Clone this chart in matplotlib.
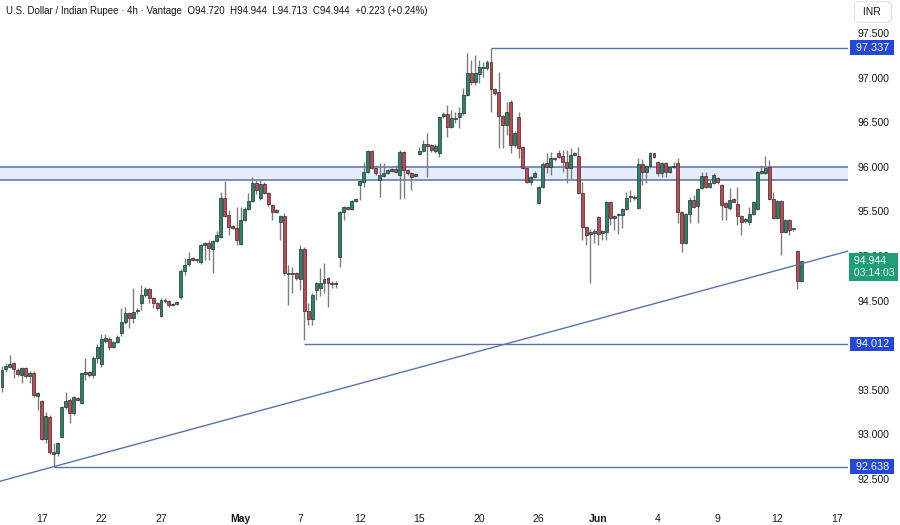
import matplotlib.pyplot as plt
from matplotlib.patches import Rectangle
import numpy as np

# 4h candles, USD/INR
opens = [
    93.53, 93.73, 93.76, 93.80, 93.72, 93.67, 93.74, 93.66, 93.69, 93.43,
    93.37, 92.95, 93.20, 92.80, 92.79, 92.97, 93.31, 93.39, 93.24, 93.41,
    93.35, 93.68, 93.70, 93.67, 93.86, 93.79, 94.05, 94.07, 93.98, 94.04,
    94.14, 94.26, 94.36, 94.31, 94.38, 94.47, 94.56, 94.63, 94.53, 94.47,
    94.33, 94.51, 94.50, 94.46, 94.46, 94.54, 94.83, 94.91, 94.97, 94.96,
    94.93, 95.12, 95.15, 95.08, 95.17, 95.21, 95.65, 95.46, 95.34, 95.31,
    95.13, 95.40, 95.53, 95.62, 95.82, 95.65, 95.81, 95.71, 95.57, 95.49,
    95.38, 95.45, 94.81, 94.80, 94.81, 94.74, 95.08, 94.38, 94.29, 94.62,
    94.64, 94.70, 94.75, 94.70, 94.69, 94.99, 95.49, 95.55, 95.53, 95.62,
    95.80, 95.83, 95.94, 96.18, 95.99, 95.85, 95.90, 95.93, 95.95, 95.98,
    95.91, 96.17, 95.96, 95.93, 95.90, 96.14, 96.18, 96.25, 96.24, 96.18,
    96.15, 96.57, 96.59, 96.45, 96.55, 96.56, 96.60, 96.81, 97.05, 96.95,
    97.04, 97.12, 97.11, 97.18, 96.87, 96.84, 96.57, 96.47, 96.73, 96.24,
    96.56, 96.22, 95.99, 95.83, 95.89, 95.59, 95.77, 96.04, 96.00, 96.10,
    96.15, 96.12, 96.05, 95.99, 96.13, 96.12, 95.71, 95.33, 95.25, 95.26,
    95.44, 95.26, 95.27, 95.61, 95.43, 95.47, 95.46, 95.53, 95.66, 95.65,
    95.54, 96.03, 95.94, 96.01, 96.15, 96.05, 95.93, 96.04, 95.94, 96.00,
    96.04, 95.49, 95.15, 95.47, 95.63, 95.56, 95.76, 95.90, 95.77, 95.82,
    95.87, 95.80, 95.59, 95.54, 95.64, 95.58, 95.45, 95.39, 95.38, 95.47,
    95.53, 95.93, 95.93, 96.00, 95.64, 95.43, 95.62, 95.27, 95.40, 95.30,
    95.06, 94.72,
]
highs = [
    93.77, 93.80, 93.89, 93.81, 93.74, 93.76, 93.76, 93.71, 93.71, 93.47,
    93.38, 93.25, 93.22, 92.90, 92.91, 93.32, 93.47, 93.41, 93.43, 93.42,
    93.70, 93.86, 93.71, 93.88, 94.01, 94.13, 94.13, 94.09, 94.05, 94.11,
    94.42, 94.43, 94.37, 94.64, 94.42, 94.68, 94.65, 94.64, 94.54, 94.48,
    94.53, 94.53, 94.51, 94.47, 94.49, 94.85, 94.98, 95.05, 94.99, 94.97,
    95.13, 95.16, 95.18, 95.18, 95.28, 95.72, 95.84, 95.52, 95.35, 95.55,
    95.55, 95.55, 95.71, 95.89, 95.85, 95.86, 95.83, 95.72, 95.58, 95.53,
    95.46, 95.48, 94.90, 94.88, 94.82, 95.12, 95.10, 94.47, 94.58, 94.71,
    94.86, 94.92, 94.76, 94.72, 94.72, 95.50, 95.56, 95.56, 95.63, 95.65,
    95.86, 96.05, 96.19, 96.19, 96.02, 96.04, 96.04, 95.97, 95.99, 96.02,
    96.19, 96.18, 95.97, 95.94, 95.93, 96.22, 96.30, 96.38, 96.25, 96.25,
    96.57, 96.61, 96.69, 96.64, 96.61, 96.67, 96.88, 97.28, 97.20, 97.25,
    97.20, 97.17, 97.20, 97.337, 96.88, 97.06, 96.58, 96.73, 96.75, 96.40,
    96.61, 96.23, 96.00, 95.90, 95.95, 95.78, 96.05, 96.16, 96.17, 96.11,
    96.19, 96.19, 96.19, 96.21, 96.17, 96.22, 95.83, 95.34, 95.30, 95.30,
    95.45, 95.29, 95.62, 95.62, 95.46, 95.48, 95.54, 95.72, 95.74, 95.68,
    96.10, 96.09, 96.02, 96.17, 96.16, 96.06, 96.05, 96.05, 96.01, 96.05,
    96.10, 95.50, 95.48, 95.66, 95.68, 95.76, 95.94, 95.94, 95.86, 95.93,
    95.89, 95.81, 95.60, 95.76, 95.65, 95.77, 95.46, 95.43, 95.55, 95.62,
    95.95, 96.02, 96.12, 96.08, 95.72, 95.63, 95.63, 95.41, 95.41, 95.31,
    95.07, 94.944,
]
lows = [
    93.48, 93.70, 93.74, 93.63, 93.66, 93.58, 93.63, 93.58, 93.42, 93.27,
    92.94, 92.90, 92.78, 92.638, 92.76, 92.96, 93.29, 93.13, 93.22, 93.37,
    93.34, 93.61, 93.64, 93.63, 93.80, 93.76, 94.03, 93.95, 93.97, 94.02,
    94.10, 94.24, 94.19, 94.25, 94.35, 94.40, 94.54, 94.47, 94.42, 94.40,
    94.32, 94.47, 94.43, 94.44, 94.45, 94.52, 94.79, 94.89, 94.94, 94.93,
    94.91, 94.96, 94.96, 94.81, 95.16, 95.20, 95.44, 95.24, 95.30, 95.12,
    95.12, 95.39, 95.52, 95.60, 95.70, 95.63, 95.69, 95.56, 95.40, 95.48,
    95.18, 94.79, 94.45, 94.59, 94.73, 94.62, 94.06, 94.23, 94.23, 94.51,
    94.55, 94.59, 94.43, 94.64, 94.64, 94.88, 95.40, 95.51, 95.51, 95.61,
    95.63, 95.77, 95.93, 95.97, 95.91, 95.66, 95.88, 95.92, 95.94, 95.93,
    95.64, 95.65, 95.91, 95.74, 95.89, 96.13, 96.17, 95.89, 96.17, 96.16,
    96.11, 96.55, 96.33, 96.43, 96.49, 96.44, 96.58, 96.79, 96.92, 96.92,
    96.94, 97.01, 97.08, 96.61, 96.81, 96.21, 96.21, 96.36, 96.15, 96.22,
    96.10, 95.97, 95.82, 95.80, 95.87, 95.58, 95.76, 95.93, 95.91, 96.07,
    96.10, 95.94, 95.82, 95.85, 96.12, 95.70, 95.18, 95.12, 94.70, 95.15,
    95.12, 95.18, 95.18, 95.35, 95.29, 95.25, 95.31, 95.51, 95.60, 95.63,
    95.53, 95.80, 95.82, 95.99, 96.10, 95.90, 95.88, 95.88, 95.93, 95.99,
    95.37, 95.04, 95.14, 95.37, 95.54, 95.37, 95.75, 95.76, 95.76, 95.81,
    95.81, 95.40, 95.40, 95.52, 95.60, 95.35, 95.24, 95.37, 95.35, 95.46,
    95.52, 95.92, 95.92, 95.63, 95.42, 95.42, 95.01, 95.26, 95.23, 95.28,
    94.63, 94.713,
]
closes = [
    93.72, 93.77, 93.79, 93.73, 93.68, 93.74, 93.66, 93.69, 93.44, 93.46,
    92.95, 93.21, 92.80, 92.78, 92.90, 93.31, 93.37, 93.24, 93.42, 93.39,
    93.69, 93.70, 93.67, 93.86, 93.98, 94.07, 94.08, 93.98, 94.04, 94.09,
    94.26, 94.36, 94.31, 94.37, 94.39, 94.56, 94.63, 94.53, 94.47, 94.42,
    94.51, 94.50, 94.45, 94.45, 94.48, 94.83, 94.90, 94.97, 94.96, 94.95,
    95.12, 95.15, 95.09, 95.17, 95.24, 95.65, 95.45, 95.33, 95.31, 95.18,
    95.40, 95.53, 95.62, 95.82, 95.74, 95.81, 95.71, 95.58, 95.49, 95.52,
    95.45, 94.81, 94.80, 94.81, 94.75, 95.08, 94.38, 94.29, 94.56, 94.70,
    94.70, 94.74, 94.70, 94.69, 94.70, 95.49, 95.55, 95.53, 95.62, 95.64,
    95.84, 95.94, 96.18, 95.99, 95.93, 95.91, 95.93, 95.96, 95.98, 95.94,
    96.17, 95.96, 95.93, 95.89, 95.92, 96.18, 96.26, 96.23, 96.19, 96.23,
    96.56, 96.59, 96.45, 96.55, 96.54, 96.60, 96.81, 97.05, 96.95, 97.05,
    97.12, 97.11, 97.18, 96.87, 96.83, 96.57, 96.47, 96.61, 96.24, 96.38,
    96.21, 95.99, 95.83, 95.89, 95.93, 95.77, 96.03, 96.00, 96.10, 96.09,
    96.11, 96.05, 95.99, 96.13, 96.15, 95.71, 95.33, 95.24, 95.27, 95.28,
    95.25, 95.28, 95.61, 95.43, 95.45, 95.46, 95.53, 95.65, 95.67, 95.66,
    96.03, 95.94, 96.01, 96.15, 96.11, 95.93, 96.04, 95.94, 96.00, 96.01,
    95.49, 95.15, 95.47, 95.63, 95.55, 95.75, 95.90, 95.77, 95.82, 95.91,
    95.83, 95.57, 95.55, 95.63, 95.61, 95.45, 95.38, 95.42, 95.47, 95.61,
    95.94, 95.95, 95.99, 95.64, 95.43, 95.62, 95.27, 95.40, 95.29, 95.30,
    94.72, 94.944,
]

# x axis labels sit on candle indices
x_tick_idx = [10, 25, 40, 60, 75, 90, 105, 120, 135, 150, 165, 180, 195, 210]
x_tick_labels = ['17', '22', '27', 'May', '7', '12', '15', '20', '26', 'Jun', '4', '9', '12', '17']
# 94.000 is hidden behind the 94.012 label on the reference
y_ticks = [92.5, 93.0, 93.5, 94.5, 95.0, 95.5, 96.0, 96.5, 97.0, 97.5]

# drawings: horizontal levels (price, start candle), zone, trend line anchors
level_prices = [97.337, 94.012, 92.638]
level_start = [123, 76, 13]
zone_low, zone_high = 95.85, 96.00
trend_a = (13, 92.638)
trend_b = (200, 94.90)

header = ("U.S. Dollar / Indian Rupee \u00b7 4h \u00b7 Vantage  O94.720  H94.944  "
          "L94.713  C94.944  +0.223 (+0.24%)")

UP = '#24866b'
DOWN = '#c8444f'
LINE = '#5873ae'
TXT = '#131722'

plt.rcParams['font.family'] = ['Liberation Sans', 'DejaVu Sans']

fig = plt.figure(figsize=(9, 5.25), dpi=100)
ax = fig.add_axes([0, 19 / 525, 848 / 900, 506 / 525])

idx = np.arange(len(closes))
o = np.array(opens)
c = np.array(closes)
up = c >= o
colors = np.where(up, UP, DOWN)

x_max = 212.8
ax.set_xlim(-0.5, x_max)
ax.set_ylim(92.197, 97.87)

# zone
ax.add_patch(Rectangle((-0.5, zone_low), x_max + 0.5, zone_high - zone_low,
                       facecolor='#e6ecf9', edgecolor='none', zorder=0))
ax.hlines([zone_low, zone_high], -0.5, x_max, color=LINE, lw=1.1, zorder=1)

# candles
ax.vlines(idx, lows, highs, color='#7d7d7d', lw=1, zorder=2)
body_h = np.maximum(np.abs(c - o), 0.012)
ax.bar(idx, body_h, bottom=np.minimum(o, c), width=0.74, color=colors,
       edgecolor='#2e2e2e', linewidth=0.5, zorder=3)

# levels and trend line
for p, s in zip(level_prices, level_start):
    ax.hlines(p, s, x_max, color=LINE, lw=1, zorder=4)
ax.axline(trend_a, trend_b, color=LINE, lw=1, zorder=4)

# axes styling
for sp in ax.spines.values():
    sp.set_visible(False)
ax.yaxis.tick_right()
ax.set_yticks(y_ticks)
ax.set_yticklabels([f'{v:.3f}' for v in y_ticks])
ax.tick_params(axis='y', length=0, pad=6.5, labelsize=7.6, labelcolor=TXT)
ax.set_xticks(x_tick_idx)
ax.set_xticklabels(x_tick_labels)
ax.tick_params(axis='x', length=0, pad=6, labelsize=7.5, labelcolor=TXT)
for lab in ax.get_xticklabels():
    if lab.get_text() in ('May', 'Jun'):
        lab.set_fontweight('bold')

# price labels on the right scale
for p in level_prices:
    ax.annotate(f' {p:.3f} ', xy=(1, p), xycoords=('axes fraction', 'data'),
                xytext=(3.5, 0), textcoords='offset points', va='center', ha='left',
                fontsize=7.8, color='white', annotation_clip=False, zorder=6,
                bbox=dict(boxstyle='square,pad=0.22', fc='#2347d6', ec='none'))

ax.annotate(f' {closes[-1]:.3f}\n 03:14:03', xy=(1, closes[-1]), xycoords=('axes fraction', 'data'),
            xytext=(2.5, 3.5), textcoords='offset points', va='top', ha='left',
            fontsize=7.6, color='white', annotation_clip=False, zorder=6, linespacing=1.2,
            bbox=dict(boxstyle='square,pad=0.28', fc='#1e9e78', ec='none'))

fig.text(6 / 900, 1 - 11 / 525, header, ha='left', va='center', fontsize=7.0, color=TXT)
fig.text(873 / 900, 1 - 12 / 525, ' INR  ', ha='center', va='center', fontsize=7.5, color=TXT,
         bbox=dict(boxstyle='round,pad=0.5,rounding_size=0.3', fc='white', ec='#dfe2e8', lw=0.8))

fig.savefig('out.png', dpi=100)
